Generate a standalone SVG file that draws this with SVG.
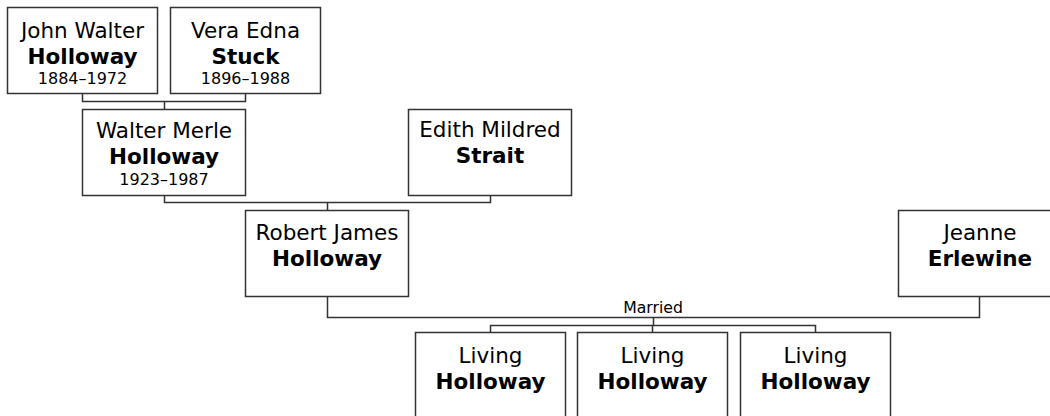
<svg xmlns="http://www.w3.org/2000/svg" width="1050" height="416" viewBox="0 0 1050 416">
<style>
.box{fill:#fff;stroke:#333;stroke-width:1.5}
.ln{fill:none;stroke:#333;stroke-width:1.5}
text{font-family:"DejaVu Sans","Verdana",sans-serif;fill:#000;text-anchor:middle}
.n{font-size:21.5px}
.b{font-size:21.5px;font-weight:bold}
.d{font-size:16px}
.m{font-size:15.7px}
</style>
<rect width="1050" height="416" fill="#fff"/>
<g id="connectors">
<path class="ln" d="M82.5 93.5V101.5H245.5V93.5M164.5 101.5V109.5"/>
<path class="ln" d="M164.5 195.5V202.5H490.5V195.5M327.5 202.5V210.5"/>
<path class="ln" d="M327.5 296.5V317.5H979.5V296.5"/>
<path class="ln" d="M653.5 317.5V325.5M490.5 332.5V325.5H815.5V332.5M652.5 325.5V332.5"/>
<text class="m" x="653" y="312.5">Married</text>
</g>
<g id="john">
<rect class="box" x="7.5" y="7.5" width="150" height="86"/>
<text class="n" x="82.5" y="37.5">John Walter</text>
<text class="b" x="82.5" y="63.5">Holloway</text>
<text class="d" x="82.5" y="83.5">1884–1972</text>
</g>
<g id="vera">
<rect class="box" x="170.5" y="7.5" width="150" height="86"/>
<text class="n" x="245.5" y="37.5">Vera Edna</text>
<text class="b" x="245.5" y="63.5">Stuck</text>
<text class="d" x="245.5" y="83.5">1896–1988</text>
</g>
<g id="walter">
<rect class="box" x="82.5" y="109.5" width="163" height="86"/>
<text class="n" x="164" y="138">Walter Merle</text>
<text class="b" x="164" y="163.5">Holloway</text>
<text class="d" x="164" y="184.5">1923–1987</text>
</g>
<g id="edith">
<rect class="box" x="408.5" y="109.5" width="163" height="86"/>
<text class="n" x="490" y="137">Edith Mildred</text>
<text class="b" x="490" y="163">Strait</text>
</g>
<g id="robert">
<rect class="box" x="245.5" y="210.5" width="163" height="86"/>
<text class="n" x="327" y="240">Robert James</text>
<text class="b" x="327" y="266">Holloway</text>
</g>
<g id="jeanne">
<rect class="box" x="898.5" y="210.5" width="163" height="86"/>
<text class="n" x="980" y="239.5">Jeanne</text>
<text class="b" x="980" y="265.5">Erlewine</text>
</g>
<g id="living1">
<rect class="box" x="415.5" y="332.5" width="150" height="86"/>
<text class="n" x="490.5" y="363">Living</text>
<text class="b" x="490.5" y="388.5">Holloway</text>
</g>
<g id="living2">
<rect class="box" x="577.5" y="332.5" width="150" height="86"/>
<text class="n" x="652.5" y="363">Living</text>
<text class="b" x="652.5" y="388.5">Holloway</text>
</g>
<g id="living3">
<rect class="box" x="740.5" y="332.5" width="150" height="86"/>
<text class="n" x="815.5" y="363">Living</text>
<text class="b" x="815.5" y="388.5">Holloway</text>
</g>
</svg>
